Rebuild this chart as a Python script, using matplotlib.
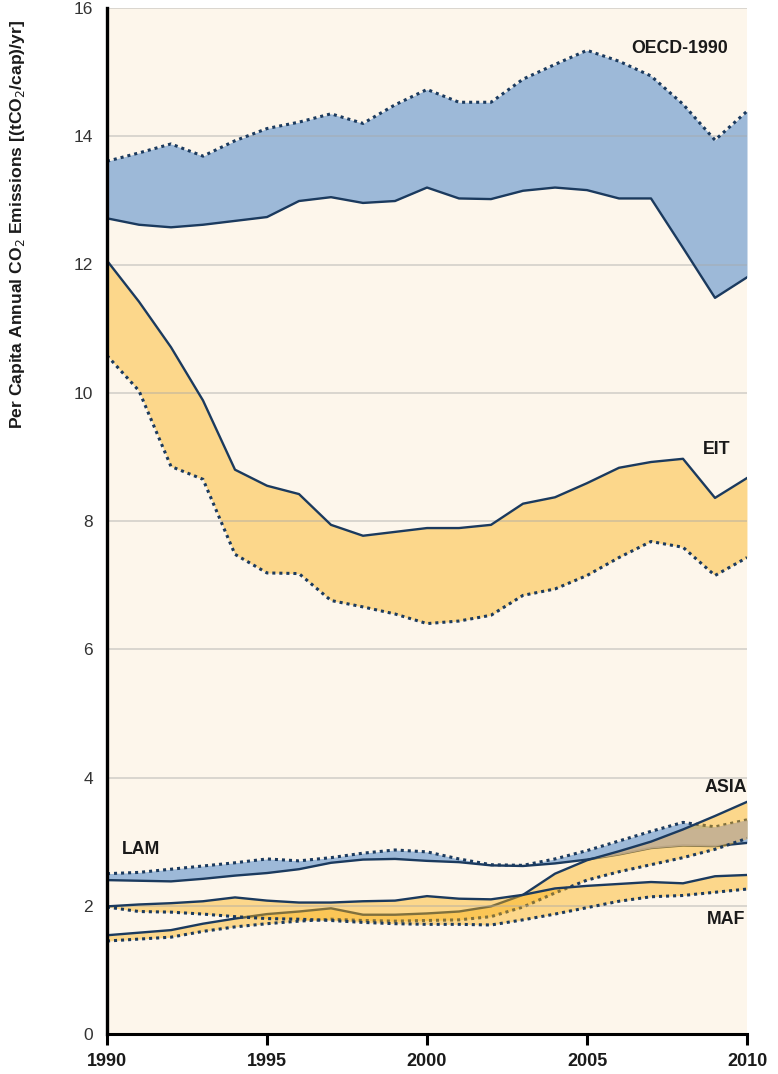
import matplotlib
matplotlib.use("Agg")
import matplotlib.pyplot as plt
import numpy as np

years = list(range(1990, 2011))

oecd_hi = [13.61, 13.74, 13.88, 13.69, 13.93, 14.12, 14.22, 14.35, 14.20, 14.49, 14.73,
           14.53, 14.53, 14.89, 15.12, 15.34, 15.17, 14.94, 14.50, 13.94, 14.39]
oecd_lo = [12.72, 12.62, 12.58, 12.62, 12.68, 12.74, 12.99, 13.05, 12.96, 12.99, 13.20,
           13.03, 13.02, 13.15, 13.20, 13.16, 13.03, 13.03, 12.26, 11.48, 11.80]

eit_hi = [12.06, 11.42, 10.71, 9.88, 8.80, 8.55, 8.42, 7.94, 7.77, 7.83, 7.89,
          7.89, 7.94, 8.27, 8.37, 8.59, 8.83, 8.92, 8.97, 8.36, 8.67]
eit_lo = [10.58, 10.03, 8.85, 8.65, 7.48, 7.19, 7.18, 6.76, 6.66, 6.55, 6.40,
          6.44, 6.53, 6.84, 6.94, 7.15, 7.43, 7.68, 7.59, 7.15, 7.43]

lam_hi = [2.50, 2.52, 2.57, 2.62, 2.67, 2.73, 2.70, 2.75, 2.82, 2.87, 2.84,
          2.73, 2.64, 2.63, 2.73, 2.86, 3.01, 3.16, 3.30, 3.23, 3.34]
lam_lo = [2.40, 2.39, 2.38, 2.42, 2.47, 2.51, 2.57, 2.67, 2.72, 2.73, 2.70,
          2.68, 2.63, 2.62, 2.66, 2.72, 2.80, 2.90, 2.94, 2.93, 2.98]

maf_hi = [1.99, 2.02, 2.04, 2.07, 2.13, 2.08, 2.05, 2.05, 2.07, 2.08, 2.15,
          2.11, 2.10, 2.17, 2.27, 2.31, 2.34, 2.37, 2.35, 2.46, 2.48]
maf_lo = [1.98, 1.91, 1.90, 1.87, 1.83, 1.80, 1.79, 1.77, 1.74, 1.72, 1.71,
          1.71, 1.70, 1.78, 1.87, 1.97, 2.07, 2.14, 2.16, 2.21, 2.26]

asia_hi = [1.54, 1.58, 1.62, 1.72, 1.80, 1.87, 1.91, 1.96, 1.86, 1.86, 1.88,
           1.91, 1.99, 2.17, 2.50, 2.71, 2.85, 3.00, 3.19, 3.40, 3.62]
asia_lo = [1.45, 1.48, 1.51, 1.60, 1.67, 1.72, 1.76, 1.79, 1.77, 1.76, 1.77,
           1.78, 1.83, 1.98, 2.20, 2.40, 2.53, 2.64, 2.75, 2.88, 3.05]

region_labels = ["OECD-1990", "EIT", "ASIA", "LAM", "MAF"]
label_x = [2007.9, 2009.05, 2009.35, 1990.45, 2009.35]
label_y = [15.37, 9.11, 3.85, 2.88, 1.78]
label_ha = ["center", "center", "center", "left", "center"]

yticks = [0, 2, 4, 6, 8, 10, 12, 14, 16]
xticks = [1990, 1995, 2000, 2005, 2010]

BG = "#FDF6EB"
BLUE = "#9DB9D8"
ORANGE = "#FBB216"
ORANGE_A = 0.45
TAN = "#C9B397"
NAVY = "#1B3A5E"
DOT = (0, (1.0, 1.3))

FN = ["Liberation Sans", "DejaVu Sans"]

fig = plt.figure(figsize=(7.78, 10.74), dpi=100)
ax = fig.add_axes([107 / 778, 40 / 1074, 640 / 778, (1034 - 8) / 1074])
ax.set_facecolor(BG)


def band(hi, lo, hi_style, lo_style, color, alpha, zf, zl):
    ax.fill_between(years, lo, hi, color=color, alpha=alpha, lw=0, zorder=zf)
    ax.plot(years, hi, color=NAVY, lw=2.2 if hi_style != "-" else 1.7,
            ls=hi_style, zorder=zl, solid_joinstyle="round")
    ax.plot(years, lo, color=NAVY, lw=2.2 if lo_style != "-" else 1.7,
            ls=lo_style, zorder=zl, solid_joinstyle="round")


band(oecd_hi, oecd_lo, DOT, "-", BLUE, 1.0, 1, 8)
band(eit_hi, eit_lo, "-", DOT, ORANGE, ORANGE_A, 1, 8)
band(lam_hi, lam_lo, DOT, "-", BLUE, 1.0, 1, 2)
band(asia_hi, asia_lo, "-", DOT, ORANGE, ORANGE_A, 3, 4)
band(maf_hi, maf_lo, "-", DOT, ORANGE, ORANGE_A, 5, 8)

# overlap of LAM and ASIA bands
ov_lo = np.maximum(lam_lo, asia_lo)
ov_hi = np.minimum(lam_hi, asia_hi)
ax.fill_between(years, ov_lo, ov_hi, where=ov_hi > ov_lo, interpolate=True,
                color=TAN, alpha=0.8, lw=0, zorder=3.5)

for yv in yticks[1:]:
    ax.axhline(yv, color="#a8a8a8", lw=1.3, alpha=0.45, zorder=6)

for t, xv, yv, ha in zip(region_labels, label_x, label_y, label_ha):
    ax.text(xv, yv, t, ha=ha, va="center", fontsize=12.8, fontweight="bold",
            family=FN, color="#1a1a1a", zorder=10)

ax.set_xlim(1990, 2010)
ax.set_ylim(0, 16)
ax.set_yticks(yticks)
ax.set_yticklabels([str(v) for v in yticks], family=FN, fontsize=12.5, color="#333333")
ax.set_xticks(xticks)
ax.set_xticklabels([str(v) for v in xticks], family=FN, fontsize=13,
                   fontweight="bold", color="#1a1a1a")
ax.tick_params(axis="y", length=0, pad=10)
ax.tick_params(axis="x", length=8, width=2.2, color="black", pad=6, direction="out")
for s in ["top", "right"]:
    ax.spines[s].set_visible(False)
ax.spines["left"].set_linewidth(2.4)
ax.spines["bottom"].set_linewidth(2.2)
ax.spines["left"].set_zorder(11)
ax.spines["bottom"].set_zorder(11)

fig.text(18 / 778, 1 - 225 / 1074,
         r"Per Capita Annual CO$_2$ Emissions [(tCO$_2$/cap)/yr]",
         rotation=90, ha="center", va="center", fontsize=12.6,
         fontweight="bold", family=FN, color="#1a1a1a")

fig.savefig("out.png", dpi=100, facecolor="white")
